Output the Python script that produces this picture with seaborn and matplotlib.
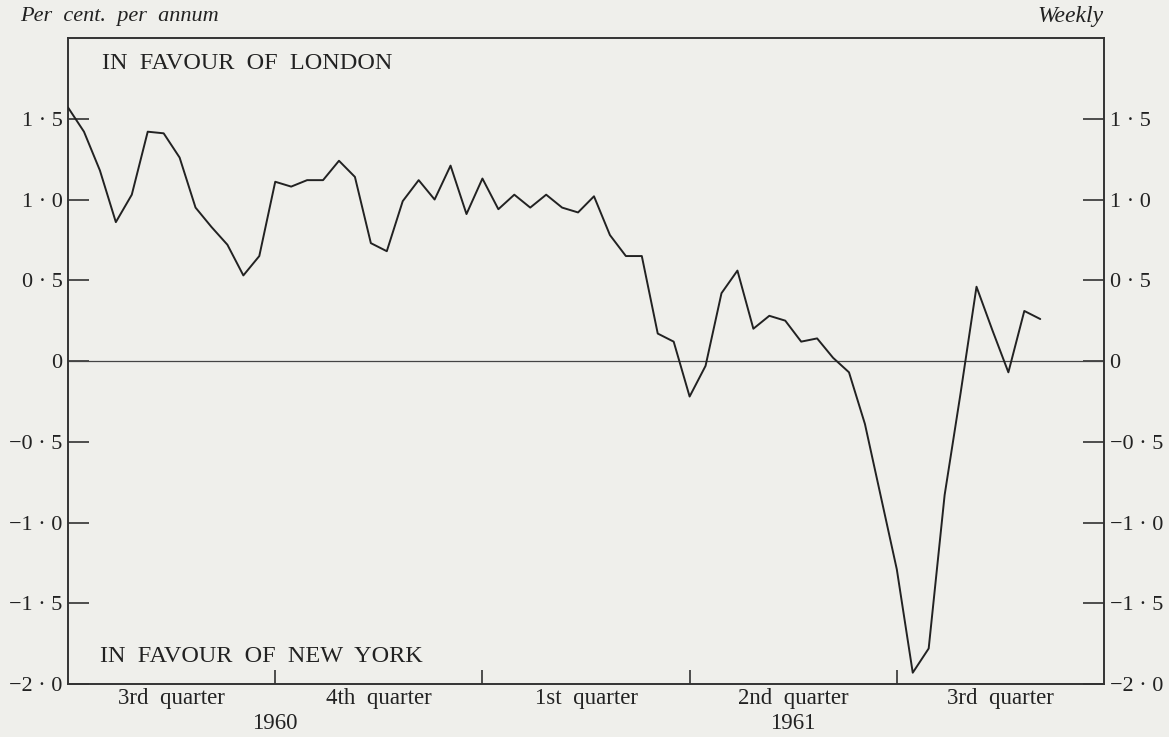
import numpy as np
import pandas as pd
import matplotlib
matplotlib.use("Agg")
import matplotlib.pyplot as plt
import matplotlib.transforms as mtransforms
import seaborn as sns

# weekly differential, per cent per annum, July 1960 - Sept 1961
values = [1.57, 1.42, 1.18, 0.86, 1.03, 1.42, 1.41, 1.26, 0.95, 0.83,
          0.72, 0.53, 0.65, 1.11, 1.08, 1.12, 1.12, 1.24, 1.14, 0.73,
          0.68, 0.99, 1.12, 1.00, 1.21, 0.91, 1.13, 0.94, 1.03, 0.95,
          1.03, 0.95, 0.92, 1.02, 0.78, 0.65, 0.65, 0.17, 0.12, -0.22,
          -0.03, 0.42, 0.56, 0.20, 0.28, 0.25, 0.12, 0.14, 0.02, -0.07,
          -0.39, -0.84, -1.29, -1.93, -1.78, -0.83, -0.20, 0.46, 0.19, -0.07,
          0.31, 0.26]
weeks = list(range(len(values)))

quarter_edges = [13, 26, 39, 52]
quarter_mids = [6.5, 19.5, 32.5, 45.5, 58.5]
quarter_labels = ["3rd  quarter", "4th  quarter", "1st  quarter", "2nd  quarter", "3rd  quarter"]
years = ["1960", "1961"]
year_pos = [13, 45.5]

yticks = [-2.0, -1.5, -1.0, -0.5, 0, 0.5, 1.0, 1.5]
ytick_labels = ["\u22122 \u00b7 0", "\u22121 \u00b7 5", "\u22121 \u00b7 0", "\u22120 \u00b7 5",
                "0", "0 \u00b7 5", "1 \u00b7 0", "1 \u00b7 5"]

df = pd.DataFrame({"week": weeks, "value": values})

sns.set_style("white")
plt.rcParams["font.family"] = ["Liberation Serif", "DejaVu Serif"]
bg = "#efefeb"
ink = "#222222"

fig = plt.figure(figsize=(11.69, 7.37), dpi=100, facecolor=bg)
ax = fig.add_axes([0.0582, 0.0719, 0.8862, 0.8765], facecolor=bg)

ax.axhline(0, color="#444444", lw=0.9, zorder=1)
sns.lineplot(data=df, x="week", y="value", color=ink, lw=1.4, ax=ax, zorder=3)

ax.set_xlim(0, 65)
ax.set_ylim(-2.0, 2.0)
ax.set_xlabel("")
ax.set_ylabel("")

ax.set_yticks(yticks)
ax.set_yticklabels(ytick_labels)
ax.tick_params(axis="y", which="major", direction="in", length=15, width=1.1,
               color=ink, left=True, right=True, labelleft=True, labelright=True,
               labelsize=16, labelcolor=ink, pad=4)

ax.set_xticks(quarter_edges)
ax.set_xticklabels([])
ax.set_xticks(quarter_mids, minor=True)
ax.set_xticklabels(quarter_labels, minor=True)
ax.tick_params(axis="x", which="major", direction="in", length=10, width=1.1,
               color=ink, bottom=True)
ax.tick_params(axis="x", which="minor", length=0, labelsize=16.5, labelcolor=ink, pad=3)

trans = mtransforms.blended_transform_factory(ax.transData, fig.transFigure)
for yr, xp in zip(years, year_pos):
    ax.text(xp, 0.018, yr, transform=trans, ha="center", va="center",
            fontsize=16.5, color=ink)

for side in ["left", "right", "top", "bottom"]:
    ax.spines[side].set_visible(True)
    ax.spines[side].set_color("#333333")
    ax.spines[side].set_linewidth(1.4)

ax.text(2.1, 1.84, "IN  FAVOUR  OF  LONDON", ha="left", va="center",
        fontsize=17.5, color=ink)
ax.text(2.0, -1.83, "IN  FAVOUR  OF  NEW  YORK", ha="left", va="center",
        fontsize=17.5, color=ink)

fig.text(0.017, 0.978, "Per  cent.  per  annum", ha="left", va="center",
         fontsize=16, style="italic", color=ink)
fig.text(0.944, 0.978, "Weekly", ha="right", va="center",
         fontsize=17, style="italic", color=ink)

fig.savefig("out.png", dpi=100, facecolor=bg)
